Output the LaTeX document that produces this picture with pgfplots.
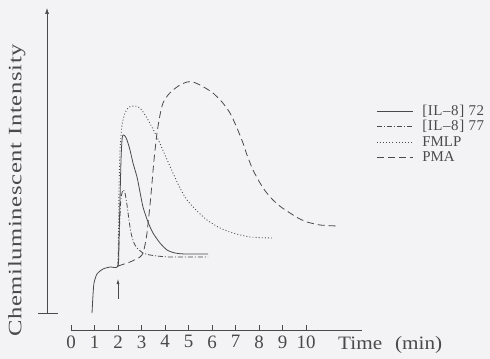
\documentclass[border=0pt]{standalone}
\usepackage{pgfplots}
\pgfplotsset{compat=1.18}
\usetikzlibrary{arrows.meta}
\usepackage{fontspec}
\setmainfont{Liberation Serif}
\newfontfamily\wideserif{Liberation Serif}[FakeStretch=1.3,LetterSpace=3.5]
\newfontfamily\midserif{Liberation Serif}[FakeStretch=1.12]
\newfontfamily\legserif{Liberation Serif}[LetterSpace=4]
\definecolor{ink}{HTML}{4A4A4A}
\definecolor{bg}{HTML}{F3F3F5}
\begin{document}
\begin{tikzpicture}
\fill[bg] (-71bp,-29bp) rectangle (419bp,330bp);
\begin{axis}[
  x=23.5bp, y=1bp,
  xmin=0, xmax=12.4, ymin=0, ymax=320,
  axis x line*=bottom, axis y line=none,
  x axis line style={-, ink, line width=0.6bp},
  xtick={0,...,10}, ytick=\empty,
  tick align=inside, major tick length=5bp,
  tick style={ink, line width=0.6bp},
  xticklabel style={font=\fontsize{19}{19}\selectfont, text=ink, yshift=-2bp},
  /pgf/number format/assume math mode=true,
  clip=false,
]
% [IL-8] 72 (solid)
\addplot[ink, line width=0.8bp, smooth, tension=0.4] coordinates {
(0.894,17) (0.936,35) (0.979,47) (1.106,56) (1.362,61) (1.660,63) (2.000,64)
(2.043,90) (2.085,130) (2.128,170) (2.170,190) (2.213,195) (2.298,194) (2.383,190)
(2.511,180) (2.638,167) (2.809,153) (2.936,138) (3.064,123) (3.277,108) (3.489,97)
(3.787,87) (4.085,80) (4.426,77) (4.851,76) (5.830,76)};
% [IL-8] 77 (dash-dot)
\addplot[ink, line width=0.8bp, smooth, tension=0.4, dash pattern=on 5bp off 2bp on 1bp off 2bp] coordinates {
(2.000,64) (2.043,90) (2.085,115) (2.128,132) (2.213,140) (2.298,137) (2.383,125)
(2.468,110) (2.553,97) (2.681,87) (2.809,82) (3.064,77) (3.362,75) (3.660,74)
(4.213,73) (5.830,73)};
% FMLP (dotted)
\addplot[ink, line width=0.9bp, smooth, tension=0.4, dash pattern=on 0.9bp off 2.2bp] coordinates {
(2.000,64) (2.021,100) (2.043,140) (2.085,180) (2.170,205) (2.298,217) (2.468,223)
(2.723,224) (2.936,222) (3.234,212) (3.660,193) (4.000,175) (4.340,157) (4.638,142)
(4.936,130) (5.362,119) (5.787,110) (6.340,102) (6.894,97) (7.617,93) (8.553,92)};
% PMA (dashed)
\addplot[ink, line width=0.8bp, smooth, tension=0.4, dash pattern=on 7bp off 4bp] coordinates {
(2.000,64) (2.511,68) (2.936,73) (3.064,77) (3.149,85) (3.234,97) (3.362,125)
(3.447,147) (3.532,170) (3.660,197) (3.787,215) (3.915,227) (4.128,235) (4.340,240)
(4.638,245) (4.936,248) (5.191,248) (5.489,245) (5.787,241) (6.043,237) (6.426,228)
(6.766,217) (7.064,202) (7.319,187) (7.489,175) (7.745,160) (8.043,147) (8.298,138)
(8.596,130) (8.936,123) (9.319,117) (9.660,112) (10.043,108) (10.596,105) (11.319,104)};
% vertical intensity axis
\draw[ink, line width=0.6bp, -{Latex[length=6bp,width=4bp]}] (axis cs:-1.02,17) -- (axis cs:-1.02,322);
\draw[ink, line width=0.6bp] (axis cs:-1.40,17) -- (axis cs:-0.55,17);
\node[rotate=90, text=ink, font=\wideserif\fontsize{19}{19}\selectfont] at (axis cs:-2.30,139.5) {Chemiluminescent Intensity};
% stimulus arrow
\draw[ink, line width=0.7bp, -{Latex[length=5bp,width=3bp]}] (axis cs:2.0,31) -- (axis cs:2.0,51);
% x label
\node[anchor=west, inner sep=0pt, text=ink, font=\midserif\fontsize{19}{19}\selectfont] at (axis cs:11.36,-15) {Time\hspace{13bp}(min)};
% legend
\draw[ink, line width=0.8bp] (axis cs:13.02,219) -- (axis cs:14.55,219);
\draw[ink, line width=0.8bp, dash pattern=on 5bp off 2bp on 1bp off 2bp] (axis cs:13.02,204) -- (axis cs:14.55,204);
\draw[ink, line width=0.9bp, dash pattern=on 0.9bp off 2.2bp] (axis cs:13.02,188) -- (axis cs:14.55,188);
\draw[ink, line width=0.8bp, dash pattern=on 7bp off 4bp] (axis cs:13.02,173) -- (axis cs:14.55,173);
\begin{scope}[every node/.style={anchor=west, inner sep=0pt, text=ink, font=\fontsize{15}{15}\selectfont}]
\node[font=\legserif\fontsize{15}{15}\selectfont] at (axis cs:14.94,219) {[IL\textendash8] 72};
\node[font=\legserif\fontsize{15}{15}\selectfont] at (axis cs:14.94,204) {[IL\textendash8] 77};
\node at (axis cs:14.94,188) {FMLP};
\node at (axis cs:14.94,173) {PMA};
\end{scope}
\end{axis}
\end{tikzpicture}
\end{document}
